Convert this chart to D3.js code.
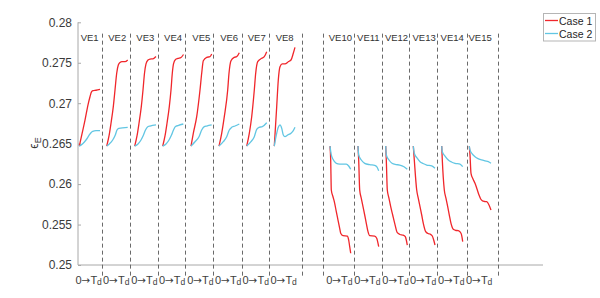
<!DOCTYPE html>
<html>
<head>
<meta charset="utf-8">
<script src="https://cdn.jsdelivr.net/npm/d3@7"></script>
<style>
  body { margin: 0; background: #fff; }
  svg { display: block; font-family: "Liberation Sans", Arial, sans-serif; }
</style>
</head>
<body>
<svg id="chart" width="600" height="298"></svg>
<script>
// VE labels (no VE9 in the plot)
var veNames = ["VE1","VE2","VE3","VE4","VE5","VE6","VE7","VE8",
               "VE10","VE11","VE12","VE13","VE14","VE15"];

// dashed separators on the time axis
var dividers = [23.7, 51.5, 79.5, 107, 135.3, 163.5, 191, 223.5, 245,
                275.5, 304, 331, 359.3, 388.8, 419.8];

// Case 1 : [time, eps_E] for each VE
var case1 = [
  [[1.3,.2647],[4,.2662],[7,.2679],[10,.2698],[12,.2708],[13.5,.2714],[15,.27155],[18,.2716],[22,.2717]],
  [[28.7,.2647],[31,.26595],[33,.26752],[35.3,.26957],[37,.27163],[38.7,.2737],[40.3,.27472],[42,.27503],[44,.27513],[47,.27513],[49.7,.27534]],
  [[56.7,.2647],[59,.26595],[61,.26752],[63.3,.26957],[65,.27163],[66.5,.2737],[68,.27485],[70,.27534],[72,.27546],[75,.27549],[78,.27577]],
  [[84.7,.2647],[87,.26595],[89,.26752],[91.3,.26957],[93,.27163],[94.3,.2737],[95.5,.27485],[97.5,.2754],[100,.27553],[103,.27565],[105.5,.27602]],
  [[113,.2647],[115.3,.26628],[118.7,.26833],[122,.27163],[123.7,.2737],[125.3,.27525],[128.7,.27567],[132,.27575],[133.7,.27608]],
  [[141,.2647],[143.7,.26628],[146.3,.26833],[149.7,.27163],[151,.2737],[153,.27525],[156.3,.27567],[158.7,.27575],[161.3,.27624]],
  [[168.7,.2647],[171.3,.26628],[173.7,.26833],[176.3,.27163],[177.7,.2737],[179.7,.27513],[183.7,.27555],[186.3,.27575],[188.7,.27637]],
  [[196.3,.2647],[198.7,.26957],[200.3,.27287],[202,.27451],[204.3,.27485],[207,.27485],[210.3,.27513],[213,.27534],[215.3,.27617],[217,.27691]],
  [[252,.2647],[252.7,.26298],[253.3,.25927],[255,.25844],[256.7,.25763],[258.3,.25659],[260,.25556],[261.7,.25454],[262.7,.25392],[265,.25362],[269.3,.25358],[270.7,.25309],[271.7,.25226],[272.7,.25145]],
  [[280,.2647],[280.7,.26298],[281.7,.25927],[283.3,.25824],[285,.25721],[286.7,.25618],[288.3,.25515],[290,.25412],[291.7,.25362],[296.7,.25358],[298.7,.2533],[300.7,.25226]],
  [[307.7,.2647],[308.3,.26298],[309.3,.25927],[311,.25824],[312.7,.25721],[314.7,.25618],[316.7,.25515],[319.3,.25399],[322,.25377],[325,.2537],[327.3,.2535],[328.3,.25309],[329.3,.25247]],
  [[335.3,.2647],[336.3,.26298],[338.7,.25927],[340.3,.25824],[342,.25721],[343.7,.25618],[345.3,.25515],[347.7,.25412],[350,.25389],[352,.25383],[354.3,.25358],[355.7,.25309],[357,.25247]],
  [[363.7,.2647],[364.3,.26298],[366.3,.25927],[368,.25824],[369.7,.25721],[371.3,.25618],[373,.25515],[375.3,.25441],[377.5,.25429],[380.3,.25424],[383,.25392],[384,.25346],[384.7,.25288]],
  [[391.3,.2647],[392,.2636],[393,.26133],[395,.26063],[397,.2601],[399,.2594],[401,.25865],[402.7,.25816],[404.3,.25795],[406.5,.25785],[408.7,.25782],[411,.25742],[413,.2568]]
];

// Case 2
var case2 = [
  [[1.3,.2647],[4.7,.2650],[8,.26545],[11.3,.26607],[13,.26635],[14.7,.26653],[18,.2666],[22,.2666]],
  [[28.7,.2647],[31.3,.26496],[34.7,.26545],[37.3,.26607],[39,.26669],[40.7,.2669],[49.7,.26702]],
  [[56.7,.2647],[60,.26496],[63,.26545],[65.5,.26607],[67.5,.26669],[69.5,.26706],[72,.26718],[78,.26731]],
  [[84.7,.2647],[88,.26496],[91,.26545],[93.5,.26607],[95.5,.26669],[97.5,.26712],[100,.26724],[105.3,.26743]],
  [[113,.2647],[117,.26524],[121,.26586],[123.7,.26669],[126.3,.2671],[128.7,.26718],[133.7,.26731]],
  [[141,.2647],[145.3,.26524],[148.7,.26586],[151.3,.26669],[153.7,.26702],[157,.26718],[161.3,.26743]],
  [[168.7,.2647],[173,.26524],[176.3,.26586],[178.7,.26677],[181,.26702],[184.3,.2671],[188.7,.26759]],
  [[196.3,.2647],[198,.26586],[200.3,.26702],[202,.26731],[203.7,.2669],[205.3,.26607],[207,.26586],[209.7,.26607],[213,.26628],[215.3,.2666],[217,.26702]],
  [[252,.2647],[253.3,.2636],[255,.26307],[258.3,.26257],[261.7,.26248],[268.3,.26248],[270.7,.26224],[272.7,.26183]],
  [[280,.2647],[280.7,.2636],[283.3,.26298],[286.7,.26257],[291.7,.2624],[296.7,.26232],[298.7,.26215],[300.7,.26166]],
  [[307.7,.2647],[308.3,.2636],[311,.26298],[314,.26257],[318,.26242],[321.7,.26236],[326,.26215],[329.3,.26183]],
  [[335.3,.2647],[336.3,.26381],[339,.26323],[342,.26277],[345,.26255],[348.7,.26236],[353.7,.26224],[357,.26195]],
  [[363.7,.2647],[364.3,.264],[367,.26347],[370.3,.26298],[373.5,.26273],[377,.26257],[382,.26248],[384.7,.26215]],
  [[391.3,.2647],[392,.26422],[394,.26378],[397,.26339],[400,.26314],[403.7,.26298],[407,.26286],[410.3,.26277],[413,.26257]]
];

var yTicks = [0.25, 0.255, 0.26, 0.265, 0.27, 0.275, 0.28];
var yTickLabels = ["0.25","0.255","0.26","0.265","0.27","0.275","0.28"];
var seriesNames = ["Case 1", "Case 2"];
var seriesColors = ["#f0262b", "#62c6e3"];

var svg = d3.select("#chart");

var x = d3.scaleLinear().domain([0, 465]).range([78, 543]);
var y = d3.scaleLinear().domain([0.25, 0.28]).range([265, 22.3]);

// y axis
var yAxis = d3.axisLeft(y)
    .tickValues(yTicks)
    .tickSize(-3)
    .tickPadding(6)
    .tickFormat(function(d, i){ return yTickLabels[i]; });

var gy = svg.append("g").attr("transform", "translate(78,0)").call(yAxis);
gy.select(".domain").attr("stroke", "#a8a8a8").attr("d", "M0," + y(0.28) + "V" + y(0.25));
gy.selectAll(".tick line").attr("stroke", "#a8a8a8");
gy.selectAll(".tick text").attr("fill", "#3a3a3a").style("font-size", "12px")
  .style("font-family", "'Liberation Sans', Arial, sans-serif");

// bottom line
svg.append("line")
  .attr("x1", x(0)).attr("x2", x(465))
  .attr("y1", y(0.25)).attr("y2", y(0.25))
  .attr("stroke", "#a8a8a8").attr("stroke-width", 1);

// dashed separators
svg.append("g").selectAll("line")
  .data(dividers).enter().append("line")
  .attr("x1", function(d){ return Math.round(x(d)) + 0.5; })
  .attr("x2", function(d){ return Math.round(x(d)) + 0.5; })
  .attr("y1", y(0.2786)).attr("y2", y(0.2484))
  .attr("stroke", "#6a6a6a").attr("stroke-width", 1)
  .attr("stroke-dasharray", "4,3");

// centre of each VE
var centers = case1.map(function(s){ return (s[0][0] + s[s.length-1][0]) / 2; });

// VE labels at top
svg.append("g").selectAll("text")
  .data(veNames).enter().append("text")
  .attr("x", function(d, i){ return x(centers[i]); })
  .attr("y", 41)
  .attr("text-anchor", "middle")
  .style("font-size", "9.5px")
  .attr("fill", "#333")
  .text(function(d){ return d; });

// bottom labels 0 -> Td
var bl = svg.append("g").selectAll("text")
  .data(centers).enter().append("text")
  .attr("x", function(d){ return x(d) - 1; })
  .attr("y", 284)
  .attr("text-anchor", "middle")
  .style("font-size", "11px")
  .attr("fill", "#404040");
bl.append("tspan").text("0");
bl.append("tspan").style("font-family", "'DejaVu Sans', sans-serif").style("font-size", "10.5px").text("\u2192");
bl.append("tspan").text("T");
bl.append("tspan").attr("dy", 1).style("font-size", "8.5px").text("d");

// curves
var line = d3.line()
  .x(function(d){ return x(d[0]); })
  .y(function(d){ return y(d[1]); })
  .curve(d3.curveMonotoneX);

[case1, case2].forEach(function(series, k){
  svg.append("g").selectAll("path")
    .data(series).enter().append("path")
    .attr("d", line)
    .attr("fill", "none")
    .attr("stroke", seriesColors[k])
    .attr("stroke-width", 1.3)
    .attr("stroke-linejoin", "round");
});

// y label: epsilon_E
var yl = svg.append("text")
  .attr("transform", "translate(38,143) rotate(-90)")
  .attr("text-anchor", "middle")
  .style("font-size", "12px")
  .attr("fill", "#333");
yl.append("tspan").text("\u03F5");
yl.append("tspan").attr("dy", 3).style("font-size", "9px").text("E");

// legend
var lg = svg.append("g").attr("transform", "translate(543,13)");
lg.append("rect").attr("x", 0.5).attr("y", 0.5).attr("width", 52).attr("height", 27.5)
  .attr("fill", "#fff").attr("stroke", "#b5b5b5");
seriesNames.forEach(function(name, i){
  lg.append("line").attr("x1", 2).attr("x2", 15)
    .attr("y1", 7.5 + i * 13).attr("y2", 7.5 + i * 13)
    .attr("stroke", seriesColors[i]).attr("stroke-width", 1.3);
  lg.append("text").attr("x", 16).attr("y", 11.5 + i * 13)
    .style("font-size", "10.5px").attr("fill", "#262626").text(name);
});
</script>
</body>
</html>
